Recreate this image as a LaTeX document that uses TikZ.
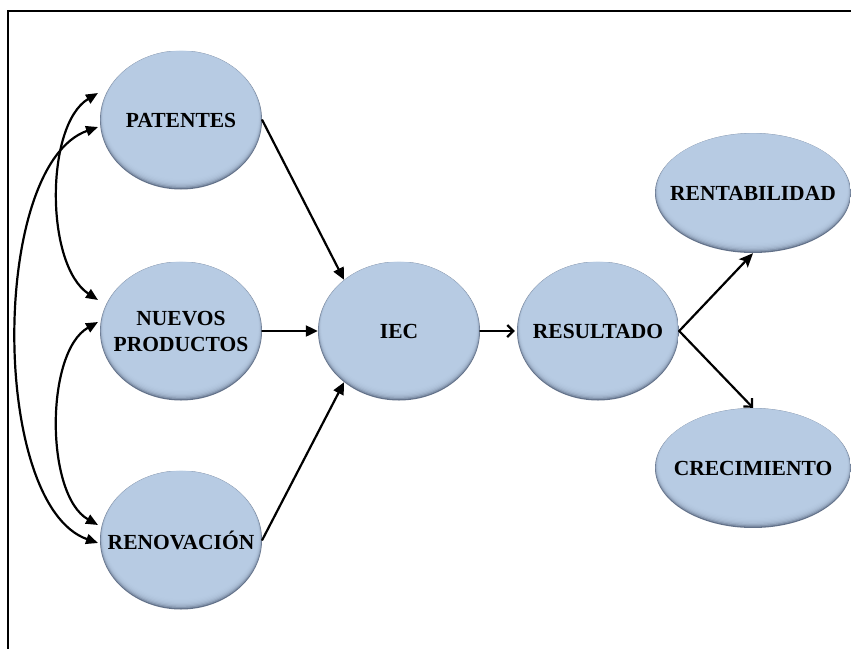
\documentclass[tikz,border=0pt]{standalone}
\usepackage{fontspec}
\setmainfont{Liberation Serif}
\usetikzlibrary{shapes.geometric,arrows.meta,calc}

\definecolor{bubfill}{HTML}{B9CDE5}
\definecolor{bubrim}{HTML}{627189}

% centred label of zero width, so the ellipse keeps its own size
\newcommand{\tag}[1]{\makebox[0pt][c]{#1}}

\tikzset{
  bubble/.style={ellipse, inner sep=0pt, align=center,
    font=\fontsize{21.5}{26}\selectfont\bfseries,
    path picture={
      \fill[bubrim] (path picture bounding box.south west) rectangle (path picture bounding box.north east);
      \foreach \k in {1,...,8}{
        \fill[bubfill, opacity=0.4]
          let \p1=($(path picture bounding box.north east)-(path picture bounding box.south west)$) in
          ([yshift={\k*0.6pt}]path picture bounding box.center)
          ellipse [x radius={0.5*\x1-\k*0.45pt}, y radius={0.5*\y1-\k*0.7pt}];
      }
    }},
  small bubble/.style={bubble, minimum width=162pt, minimum height=139pt},
  wide bubble/.style={bubble, minimum width=196pt, minimum height=120pt},
  link/.style={line width=2.2pt, line cap=round},
  solidtip/.style={link, -{Triangle[length=12pt,width=11pt]}},
  opentip/.style={link, -{Straight Barb[length=6pt,width=12pt]}},
  stealthtip/.style={link, -{Stealth[length=14pt,width=12pt,inset=3pt]}},
  bothtips/.style={link, {Triangle[length=12pt,width=10pt]}-{Triangle[length=12pt,width=10pt]}},
}

\begin{document}
\begin{tikzpicture}[x=1pt,y=1pt]
  \useasboundingbox (0,0) rectangle (851,-648);
  \clip (0,0) rectangle (851,-648);

  % frame
  \draw[line width=1.5pt] (8,-11) rectangle (880,-680);

  % nodes
  \node[small bubble] (pat) at (181,-120) {\tag{PATENTES}};
  \node[small bubble] (nue) at (181,-331) {\tag{NUEVOS}\\\tag{PRODUCTOS}};
  \node[small bubble] (ren) at (181,-540) {\tag{RENOVACIÓN}};
  \node[small bubble] (iec) at (399,-331) {\tag{IEC}};
  \node[small bubble] (res) at (598,-331) {\tag{RESULTADO}};
  \node[wide bubble]  (rent) at (753,-193) {\tag{RENTABILIDAD}};
  \node[wide bubble]  (cre) at (753,-468) {\tag{CRECIMIENTO}};

  % ends of the curved links on the left
  \coordinate (patA) at (98,-93);
  \coordinate (patB) at (98,-127);
  \coordinate (nueA) at (98,-300);
  \coordinate (nueC) at (98,-322);
  \coordinate (renC) at (98,-525);
  \coordinate (renB) at (98,-543);

  % curved two-way links
  \draw[bothtips] (patA) .. controls (45,-125) and (45,-265) .. (nueA);
  \draw[bothtips] (patB) .. controls (-10,-165) and (-10,-505) .. (renB);
  \draw[bothtips] (nueC) .. controls (45,-352) and (45,-495) .. (renC);

  % straight links
  \draw[solidtip] (pat.east) -- (iec.137);
  \draw[solidtip] (nue.east) -- (iec.west);
  \draw[solidtip] (ren.east) -- (iec.223);
  \draw[opentip] (iec.east) -- ([xshift=-2pt]res.west);
  \draw[stealthtip] (res.east) -- (rent.south);
  \draw[opentip] (res.east) -- (cre.north);
\end{tikzpicture}
\end{document}
